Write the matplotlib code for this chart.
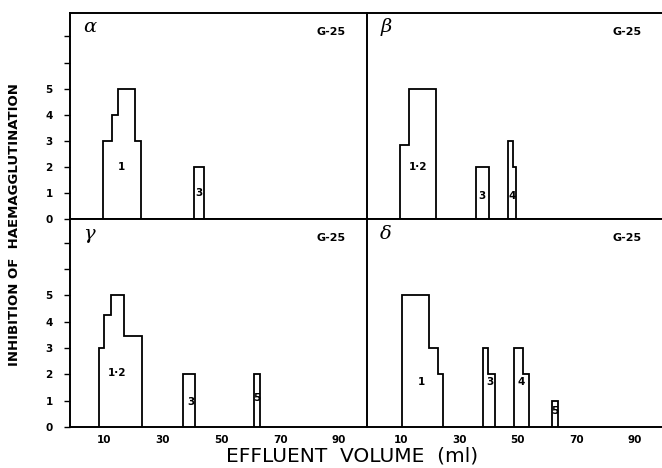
import matplotlib.pyplot as plt

# ── Data (effluent volume in ml, inhibition titre) ───────────────────────────
alpha_edges   = [[9.6, 12.6, 14.8, 20.5, 22.4], [40.5, 43.9]]
alpha_heights = [[3, 4, 5, 3], [2]]
alpha_labels  = ["1", "3"]
alpha_lab_x   = [16.0, 42.3]
alpha_lab_y   = [2.0, 1.0]

beta_edges   = [[9.4, 12.6, 22.0], [35.7, 40.0], [46.5, 48.5, 49.5]]
beta_heights = [[2.85, 5], [2], [3, 2]]
beta_labels  = ["1·2", "3", "4"]
beta_lab_x   = [15.7, 37.6, 47.9]
beta_lab_y   = [2.0, 0.9, 0.9]

gamma_edges   = [[8.4, 10.1, 12.4, 16.8, 22.9], [36.8, 40.8], [61.0, 63.1]]
gamma_heights = [[3, 4.25, 5, 3.45], [2], [2]]
gamma_labels  = ["1·2", "3", "5"]
gamma_lab_x   = [14.5, 39.4, 62.0]
gamma_lab_y   = [2.05, 0.95, 1.1]

delta_edges   = [[10.3, 19.5, 22.6, 24.3], [38.0, 39.9, 42.0],
                 [48.8, 51.7, 53.7], [61.6, 63.9]]
delta_heights = [[5, 3, 2], [3, 2], [3, 2], [1]]
delta_labels  = ["1", "3", "4", "5"]
delta_lab_x   = [16.8, 40.4, 51.1, 62.7]
delta_lab_y   = [1.7, 1.7, 1.7, 0.6]

greek     = ["α", "β", "γ", "δ"]
gel_label = "G-25"
x_ticks   = [10, 30, 50, 70, 90]
y_ticks   = [0, 1, 2, 3, 4, 5, 6, 7]
y_tick_labels = ["0", "1", "2", "3", "4", "5", "", ""]

# ── Layout ───────────────────────────────────────────────────────────────────
W, H = 662, 468
fig = plt.figure(figsize=(W / 100, H / 100), dpi=100)

xl0, xmid, xr = 69.5 / W, 367 / W, 1.0
yt_top, ymid, yb_bot = 1 - 13 / H, 1 - 219 / H, 1 - 427 / H

ax_a = fig.add_axes([xl0, ymid, xmid - xl0, yt_top - ymid])
ax_b = fig.add_axes([xmid, ymid, xr - xmid, yt_top - ymid])
ax_g = fig.add_axes([xl0, yb_bot, xmid - xl0, ymid - yb_bot])
ax_d = fig.add_axes([xmid, yb_bot, xr - xmid, ymid - yb_bot])

panels = [
    (ax_a, alpha_edges, alpha_heights, alpha_labels, alpha_lab_x, alpha_lab_y),
    (ax_b, beta_edges, beta_heights, beta_labels, beta_lab_x, beta_lab_y),
    (ax_g, gamma_edges, gamma_heights, gamma_labels, gamma_lab_x, gamma_lab_y),
    (ax_d, delta_edges, delta_heights, delta_labels, delta_lab_x, delta_lab_y),
]

for i, (ax, edges, heights, labs, lx, ly) in enumerate(panels):
    left_col = i in (0, 2)
    bottom_row = i in (2, 3)

    for e, h in zip(edges, heights):
        ax.stairs(h, e, baseline=0, color="black", lw=1.3)
    for t, x, y in zip(labs, lx, ly):
        ax.text(x, y, t, ha="center", va="center", fontsize=7.5,
                fontweight="bold")

    ax.set_xlim(-1.8, 99.5)
    ax.set_ylim(0, 7.9)

    for s in ax.spines.values():
        s.set_linewidth(1.4)
    ax.spines["right"].set_visible(False)

    ax.set_xticks(x_ticks)
    if bottom_row:
        ax.set_xticklabels([str(v) for v in x_ticks], fontsize=7.5,
                           fontweight="bold")
    else:
        ax.set_xticklabels([])
    ax.tick_params(axis="x", length=0, pad=6)

    if left_col:
        ax.set_yticks(y_ticks)
        ax.set_yticklabels(y_tick_labels, fontsize=7.5, fontweight="bold")
        ax.tick_params(axis="y", length=4, width=1, pad=8)
    else:
        ax.set_yticks([])

    ax.text(0.045, 0.93, greek[i], transform=ax.transAxes, fontsize=14,
            fontstyle="italic", ha="left", va="center",
            family="DejaVu Serif")
    ax.text(0.88, 0.91, gel_label, transform=ax.transAxes, fontsize=8,
            fontweight="bold", ha="center", va="center")

fig.text(352 / W, 1 - 456 / H, "EFFLUENT  VOLUME  (ml)", ha="center",
         va="center", fontsize=14.5)
fig.text(15 / W, 1 - 225 / H, "INHIBITION OF  HAEMAGGLUTINATION",
         rotation=90, ha="center", va="center", fontsize=9.5,
         fontweight="bold")

fig.savefig("out.png", dpi=100)
